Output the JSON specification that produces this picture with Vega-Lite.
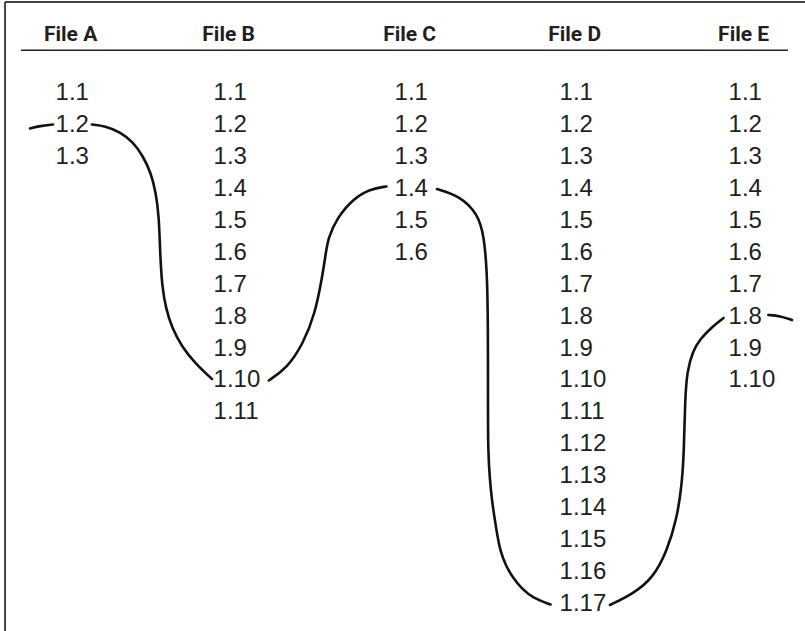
{
  "$schema": "https://vega.github.io/schema/vega-lite/v6.json",
  "width": 805,
  "height": 631,
  "autosize": {"type": "fit", "contains": "padding"},
  "padding": 0,
  "background": "white",
  "config": {"view": {"stroke": null}},
  "datasets": {
    "headers": [
      {"file": "File A", "col": 0},
      {"file": "File B", "col": 1},
      {"file": "File C", "col": 2},
      {"file": "File D", "col": 3},
      {"file": "File E", "col": 4}
    ],
    "versions": [
      {"file": "File A", "col": 0, "row": 1, "label": "1.1"},
      {"file": "File A", "col": 0, "row": 2, "label": "1.2"},
      {"file": "File A", "col": 0, "row": 3, "label": "1.3"},
      {"file": "File B", "col": 1, "row": 1, "label": "1.1"},
      {"file": "File B", "col": 1, "row": 2, "label": "1.2"},
      {"file": "File B", "col": 1, "row": 3, "label": "1.3"},
      {"file": "File B", "col": 1, "row": 4, "label": "1.4"},
      {"file": "File B", "col": 1, "row": 5, "label": "1.5"},
      {"file": "File B", "col": 1, "row": 6, "label": "1.6"},
      {"file": "File B", "col": 1, "row": 7, "label": "1.7"},
      {"file": "File B", "col": 1, "row": 8, "label": "1.8"},
      {"file": "File B", "col": 1, "row": 9, "label": "1.9"},
      {"file": "File B", "col": 1, "row": 10, "label": "1.10"},
      {"file": "File B", "col": 1, "row": 11, "label": "1.11"},
      {"file": "File C", "col": 2, "row": 1, "label": "1.1"},
      {"file": "File C", "col": 2, "row": 2, "label": "1.2"},
      {"file": "File C", "col": 2, "row": 3, "label": "1.3"},
      {"file": "File C", "col": 2, "row": 4, "label": "1.4"},
      {"file": "File C", "col": 2, "row": 5, "label": "1.5"},
      {"file": "File C", "col": 2, "row": 6, "label": "1.6"},
      {"file": "File D", "col": 3, "row": 1, "label": "1.1"},
      {"file": "File D", "col": 3, "row": 2, "label": "1.2"},
      {"file": "File D", "col": 3, "row": 3, "label": "1.3"},
      {"file": "File D", "col": 3, "row": 4, "label": "1.4"},
      {"file": "File D", "col": 3, "row": 5, "label": "1.5"},
      {"file": "File D", "col": 3, "row": 6, "label": "1.6"},
      {"file": "File D", "col": 3, "row": 7, "label": "1.7"},
      {"file": "File D", "col": 3, "row": 8, "label": "1.8"},
      {"file": "File D", "col": 3, "row": 9, "label": "1.9"},
      {"file": "File D", "col": 3, "row": 10, "label": "1.10"},
      {"file": "File D", "col": 3, "row": 11, "label": "1.11"},
      {"file": "File D", "col": 3, "row": 12, "label": "1.12"},
      {"file": "File D", "col": 3, "row": 13, "label": "1.13"},
      {"file": "File D", "col": 3, "row": 14, "label": "1.14"},
      {"file": "File D", "col": 3, "row": 15, "label": "1.15"},
      {"file": "File D", "col": 3, "row": 16, "label": "1.16"},
      {"file": "File D", "col": 3, "row": 17, "label": "1.17"},
      {"file": "File E", "col": 4, "row": 1, "label": "1.1"},
      {"file": "File E", "col": 4, "row": 2, "label": "1.2"},
      {"file": "File E", "col": 4, "row": 3, "label": "1.3"},
      {"file": "File E", "col": 4, "row": 4, "label": "1.4"},
      {"file": "File E", "col": 4, "row": 5, "label": "1.5"},
      {"file": "File E", "col": 4, "row": 6, "label": "1.6"},
      {"file": "File E", "col": 4, "row": 7, "label": "1.7"},
      {"file": "File E", "col": 4, "row": 8, "label": "1.8"},
      {"file": "File E", "col": 4, "row": 9, "label": "1.9"},
      {"file": "File E", "col": 4, "row": 10, "label": "1.10"}
    ],
    "path": [
      {"seg": 0, "i": 0, "u": -0.162, "r": 2.111},
      {"seg": 0, "i": 1, "u": -0.099, "r": 2.033},
      {"seg": 0, "i": 2, "u": -0.016, "r": 1.986},
      {"seg": 1, "i": 0, "u": 0.230, "r": 1.986},
      {"seg": 1, "i": 1, "u": 0.313, "r": 2.033},
      {"seg": 1, "i": 2, "u": 0.408, "r": 2.221},
      {"seg": 1, "i": 3, "u": 0.490, "r": 2.534},
      {"seg": 1, "i": 4, "u": 0.553, "r": 2.972},
      {"seg": 1, "i": 5, "u": 0.604, "r": 3.505},
      {"seg": 1, "i": 6, "u": 0.635, "r": 4.131},
      {"seg": 1, "i": 7, "u": 0.654, "r": 4.851},
      {"seg": 1, "i": 8, "u": 0.661, "r": 5.947},
      {"seg": 1, "i": 9, "u": 0.673, "r": 7.043},
      {"seg": 1, "i": 10, "u": 0.699, "r": 7.763},
      {"seg": 1, "i": 11, "u": 0.737, "r": 8.358},
      {"seg": 1, "i": 12, "u": 0.800, "r": 8.953},
      {"seg": 1, "i": 13, "u": 0.882, "r": 9.454},
      {"seg": 1, "i": 14, "u": 0.990, "r": 9.954},
      {"seg": 2, "i": 0, "u": 1.305, "r": 10.001},
      {"seg": 2, "i": 1, "u": 1.406, "r": 9.610},
      {"seg": 2, "i": 2, "u": 1.494, "r": 8.858},
      {"seg": 2, "i": 3, "u": 1.560, "r": 7.919},
      {"seg": 2, "i": 4, "u": 1.599, "r": 6.792},
      {"seg": 2, "i": 5, "u": 1.616, "r": 6.166},
      {"seg": 2, "i": 6, "u": 1.632, "r": 5.539},
      {"seg": 2, "i": 7, "u": 1.682, "r": 4.913},
      {"seg": 2, "i": 8, "u": 1.770, "r": 4.318},
      {"seg": 2, "i": 9, "u": 1.864, "r": 4.006},
      {"seg": 2, "i": 10, "u": 1.955, "r": 3.927},
      {"seg": 3, "i": 0, "u": 2.257, "r": 4.006},
      {"seg": 3, "i": 1, "u": 2.396, "r": 4.225},
      {"seg": 3, "i": 2, "u": 2.505, "r": 4.788},
      {"seg": 3, "i": 3, "u": 2.542, "r": 5.477},
      {"seg": 3, "i": 4, "u": 2.560, "r": 6.573},
      {"seg": 3, "i": 5, "u": 2.566, "r": 8.138},
      {"seg": 3, "i": 6, "u": 2.566, "r": 10.643},
      {"seg": 3, "i": 7, "u": 2.566, "r": 12.208},
      {"seg": 3, "i": 8, "u": 2.578, "r": 13.148},
      {"seg": 3, "i": 9, "u": 2.590, "r": 13.774},
      {"seg": 3, "i": 10, "u": 2.615, "r": 14.619},
      {"seg": 3, "i": 11, "u": 2.639, "r": 15.339},
      {"seg": 3, "i": 12, "u": 2.675, "r": 15.809},
      {"seg": 3, "i": 13, "u": 2.718, "r": 16.185},
      {"seg": 3, "i": 14, "u": 2.772, "r": 16.530},
      {"seg": 3, "i": 15, "u": 2.839, "r": 16.811},
      {"seg": 3, "i": 16, "u": 2.945, "r": 17.014},
      {"seg": 4, "i": 0, "u": 3.298, "r": 17.030},
      {"seg": 4, "i": 1, "u": 3.434, "r": 16.686},
      {"seg": 4, "i": 2, "u": 3.553, "r": 16.185},
      {"seg": 4, "i": 3, "u": 3.636, "r": 15.339},
      {"seg": 4, "i": 4, "u": 3.695, "r": 14.306},
      {"seg": 4, "i": 5, "u": 3.724, "r": 13.242},
      {"seg": 4, "i": 6, "u": 3.736, "r": 12.208},
      {"seg": 4, "i": 7, "u": 3.742, "r": 10.643},
      {"seg": 4, "i": 8, "u": 3.754, "r": 9.704},
      {"seg": 4, "i": 9, "u": 3.789, "r": 9.077},
      {"seg": 4, "i": 10, "u": 3.831, "r": 8.702},
      {"seg": 4, "i": 11, "u": 3.902, "r": 8.326},
      {"seg": 4, "i": 12, "u": 3.970, "r": 8.044},
      {"seg": 5, "i": 0, "u": 4.235, "r": 7.950},
      {"seg": 5, "i": 1, "u": 4.304, "r": 7.982},
      {"seg": 5, "i": 2, "u": 4.375, "r": 8.107}
    ]
  },
  "layer": [
    {
      "data": {"values": [{"edge": "left"}]},
      "mark": {"type": "rule", "stroke": "#444444", "strokeWidth": 2},
      "encoding": {
        "x": {"datum": -0.32, "type": "quantitative", "axis": null, "scale": {"type": "linear", "domain": [0, 1, 2, 3, 4], "range": [55.6, 213.6, 394.6, 559.6, 728.6], "zero": false, "nice": false}},
        "y": {"datum": -1.849, "type": "quantitative", "axis": null, "scale": {"type": "linear", "domain": [-1.88, 17.875], "range": [0, 631], "zero": false, "nice": false}},
        "y2": {"datum": 17.875}
      }
    },
    {
      "data": {"values": [{"edge": "top"}]},
      "mark": {"type": "rule", "stroke": "#444444", "strokeWidth": 2},
      "encoding": {
        "x": {"datum": -0.32, "type": "quantitative", "axis": null, "scale": {"type": "linear", "domain": [0, 1, 2, 3, 4], "range": [55.6, 213.6, 394.6, 559.6, 728.6], "zero": false, "nice": false}},
        "x2": {"datum": 4.452},
        "y": {"datum": -1.849, "type": "quantitative", "axis": null, "scale": {"type": "linear", "domain": [-1.88, 17.875], "range": [0, 631], "zero": false, "nice": false}}
      }
    },
    {
      "data": {"values": [{"edge": "header"}]},
      "mark": {"type": "rule", "stroke": "#231f20", "strokeWidth": 1.6},
      "encoding": {
        "x": {"datum": -0.219, "type": "quantitative", "axis": null, "scale": {"type": "linear", "domain": [0, 1, 2, 3, 4], "range": [55.6, 213.6, 394.6, 559.6, 728.6], "zero": false, "nice": false}},
        "x2": {"datum": 4.351},
        "y": {"datum": -0.337, "type": "quantitative", "axis": null, "scale": {"type": "linear", "domain": [-1.88, 17.875], "range": [0, 631], "zero": false, "nice": false}}
      }
    },
    {
      "data": {"name": "headers"},
      "mark": {"type": "text", "align": "center", "baseline": "middle", "dx": 15, "font": "Roboto", "fontWeight": "bold", "fontSize": 21, "fill": "#231f20"},
      "encoding": {
        "x": {"field": "col", "type": "quantitative", "axis": null, "scale": {"type": "linear", "domain": [0, 1, 2, 3, 4], "range": [55.6, 213.6, 394.6, 559.6, 728.6], "zero": false, "nice": false}},
        "y": {"datum": -0.8, "type": "quantitative", "axis": null, "scale": {"type": "linear", "domain": [-1.88, 17.875], "range": [0, 631], "zero": false, "nice": false}},
        "text": {"field": "file"}
      }
    },
    {
      "data": {"name": "versions"},
      "mark": {"type": "text", "align": "left", "baseline": "middle", "font": "Liberation Sans, Arial, sans-serif", "fontSize": 24, "fill": "#231f20"},
      "encoding": {
        "x": {"field": "col", "type": "quantitative", "axis": null, "scale": {"type": "linear", "domain": [0, 1, 2, 3, 4], "range": [55.6, 213.6, 394.6, 559.6, 728.6], "zero": false, "nice": false}},
        "y": {"field": "row", "type": "quantitative", "axis": null, "scale": {"type": "linear", "domain": [-1.88, 17.875], "range": [0, 631], "zero": false, "nice": false}},
        "text": {"field": "label"}
      }
    },
    {
      "data": {"name": "path"},
      "mark": {"type": "line", "interpolate": "basis", "stroke": "#111111", "strokeWidth": 2.6, "strokeCap": "round"},
      "encoding": {
        "x": {"field": "u", "type": "quantitative", "axis": null, "scale": {"type": "linear", "domain": [0, 1, 2, 3, 4], "range": [55.6, 213.6, 394.6, 559.6, 728.6], "zero": false, "nice": false}},
        "y": {"field": "r", "type": "quantitative", "axis": null, "scale": {"type": "linear", "domain": [-1.88, 17.875], "range": [0, 631], "zero": false, "nice": false}},
        "detail": {"field": "seg", "type": "nominal"},
        "order": {"field": "i", "type": "quantitative"}
      }
    }
  ]
}
